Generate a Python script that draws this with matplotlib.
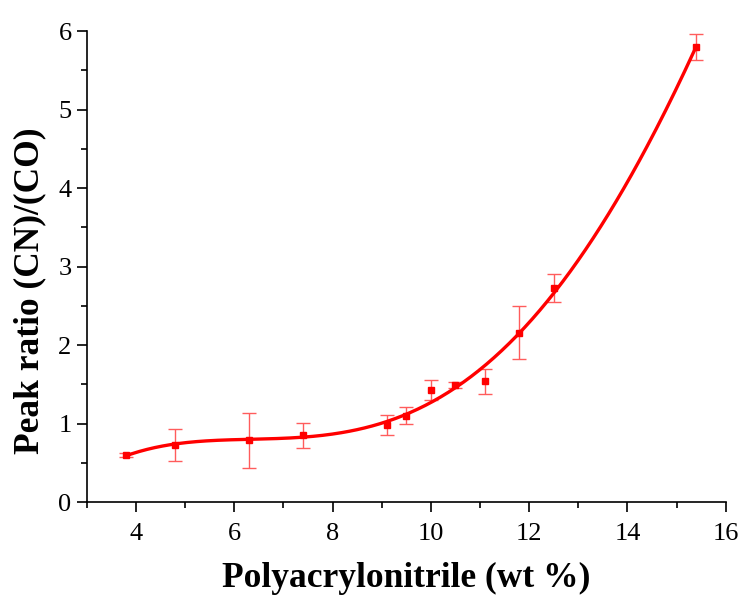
import numpy as np
import matplotlib
matplotlib.use('Agg')
import matplotlib.pyplot as plt
from matplotlib.ticker import MultipleLocator

# data
pan_wt = [3.8, 4.8, 6.3, 7.4, 9.1, 9.5, 10.0, 10.5, 11.1, 11.8, 12.5, 15.4]
peak_ratio = [0.60, 0.73, 0.79, 0.85, 0.98, 1.10, 1.43, 1.49, 1.54, 2.16, 2.73, 5.80]
ratio_err = [0.03, 0.20, 0.35, 0.16, 0.13, 0.11, 0.13, 0.04, 0.16, 0.34, 0.18, 0.17]

plt.rcParams['font.family'] = ['Liberation Serif', 'DejaVu Serif']

fig = plt.figure(figsize=(7.42, 6), dpi=100)
ax = fig.add_axes([0.117, 0.163, 0.861, 0.785])

# polynomial fit through the points
coef = np.polyfit(pan_wt, peak_ratio, 4)
xs = np.linspace(min(pan_wt), max(pan_wt), 300)
ax.plot(xs, np.polyval(coef, xs), color='red', lw=2.4, zorder=3)

ax.errorbar(pan_wt, peak_ratio, yerr=ratio_err, fmt='none', ecolor='#ff5c5c',
            elinewidth=1.0, capsize=5, capthick=1.0, zorder=2)
ax.plot(pan_wt, peak_ratio, 's', color='red', ms=5, zorder=4)

ax.set_xlim(3, 16)
ax.set_ylim(0, 6)
ax.xaxis.set_major_locator(MultipleLocator(2))
ax.xaxis.set_minor_locator(MultipleLocator(1))
ax.yaxis.set_major_locator(MultipleLocator(1))
ax.yaxis.set_minor_locator(MultipleLocator(0.5))
ax.set_xticks([4, 6, 8, 10, 12, 14, 16])

for side in ['top', 'right']:
    ax.spines[side].set_visible(False)
for side in ['left', 'bottom']:
    ax.spines[side].set_linewidth(1.2)

ax.tick_params(which='major', direction='out', length=7, width=1.2, labelsize=19)
ax.tick_params(axis='x', which='major', pad=8)
ax.tick_params(axis='y', which='major', pad=4)
ax.tick_params(which='minor', direction='out', length=4, width=1.2)

ax.set_xlabel('Polyacrylonitrile (wt %)', fontsize=25.5, fontweight='bold', labelpad=12)
ax.set_ylabel('Peak ratio (CN)/(CO)', fontsize=25.5, fontweight='bold')
ax.yaxis.set_label_coords(-0.063, 0.448)

fig.savefig('out.png', dpi=100)
